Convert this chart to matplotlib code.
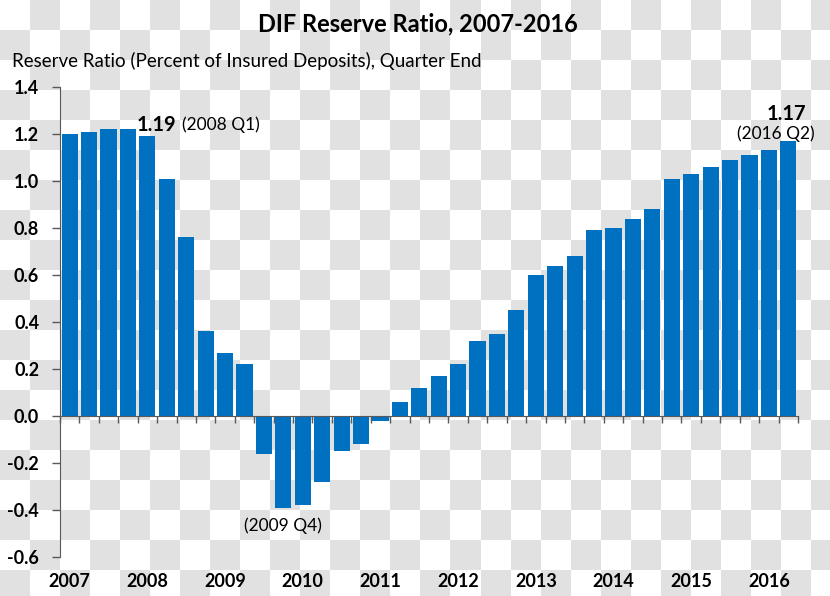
import numpy as np
import matplotlib
matplotlib.use("Agg")
import matplotlib.pyplot as plt

plt.rcParams['font.family'] = ['Lato', 'DejaVu Sans']

# ---- data ----
quarters = [f"{y} Q{q}" for y in range(2007, 2017) for q in range(1, 5)][:38]
reserve_ratio = [1.20, 1.21, 1.22, 1.22, 1.19, 1.01, 0.76, 0.36,
                 0.27, 0.22, -0.16, -0.39, -0.38, -0.28, -0.15, -0.12,
                 -0.02, 0.06, 0.12, 0.17, 0.22, 0.32, 0.35, 0.45,
                 0.60, 0.64, 0.68, 0.79, 0.80, 0.84, 0.88, 1.01,
                 1.03, 1.06, 1.09, 1.11, 1.13, 1.17]
year_labels = ["2007", "2008", "2009", "2010", "2011", "2012", "2013", "2014", "2015", "2016"]
y_ticks = [-0.6, -0.4, -0.2, 0.0, 0.2, 0.4, 0.6, 0.8, 1.0, 1.2, 1.4]

W, H = 830, 596
fig = plt.figure(figsize=(W / 100, H / 100), dpi=100)

# checkerboard background (as in reference)
bg = fig.add_axes([0, 0, 1, 1], zorder=-10)
nx, ny = int(np.ceil(W / 30)), int(np.ceil(H / 30))
cb = (np.add.outer(np.arange(ny), np.arange(nx)) % 2).astype(float)
bg.imshow(cb, cmap=matplotlib.colors.ListedColormap(['#ffffff', '#e1e1e1']),
          extent=[0, nx * 30, ny * 30, 0], interpolation='nearest', aspect='auto')
bg.set_xlim(0, W)
bg.set_ylim(H, 0)
bg.axis('off')

left, right, top, bottom = 60, 798, 87, 557
ax = fig.add_axes([left / W, 1 - bottom / H, (right - left) / W, (bottom - top) / H])
ax.patch.set_alpha(0)

x = np.arange(len(reserve_ratio))
ax.bar(x, reserve_ratio, width=0.83, color='#0070C0', zorder=2)

ax.set_xlim(-0.5, len(reserve_ratio) - 0.5)
ax.set_ylim(-0.6, 1.4)
ax.set_yticks(y_ticks)
ax.set_yticklabels([f"{v:.1f}" for v in y_ticks], fontweight='bold', fontsize=13)
ax.tick_params(axis='y', length=6, width=1, color='#595959', pad=9, labelcolor='black')

ax.spines['top'].set_visible(False)
ax.spines['right'].set_visible(False)
ax.spines['left'].set_color('#595959')
ax.spines['bottom'].set_color('#595959')
ax.spines['bottom'].set_position(('data', 0))
ax.spines['bottom'].set_zorder(3)
ax.set_xticks(np.arange(-0.5, len(reserve_ratio), 1.0))
ax.set_xticklabels([])
ax.tick_params(axis='x', length=5, width=1, color='#595959', direction='out')

for i, lab in enumerate(year_labels):
    ax.text(i * 4, -0.053, lab, transform=ax.get_xaxis_transform(),
            ha='center', va='center', fontsize=13, fontweight='bold')

# annotations
ax.text(3.46, 1.238, "1.19", ha='left', va='center', fontsize=14.5, fontweight='bold')
ax.text(5.8, 1.238, "(2008 Q1)", ha='left', va='center', fontsize=12.5)
ax.text(11.0, -0.469, "(2009 Q4)", ha='center', va='center', fontsize=12.5)
ax.text(36.9, 1.285, "1.17", ha='center', va='center', fontsize=14.5, fontweight='bold')
ax.text(36.35, 1.2, "(2016 Q2)", ha='center', va='center', fontsize=12.5)

fig.text(418 / W, 1 - 24 / H, "DIF Reserve Ratio, 2007-2016", ha='center', va='center',
         fontsize=17, fontweight='bold')
fig.text(12 / W, 1 - 61 / H, "Reserve Ratio (Percent of Insured Deposits), Quarter End",
         ha='left', va='center', fontsize=13.5)

fig.savefig("out.png", dpi=100)
